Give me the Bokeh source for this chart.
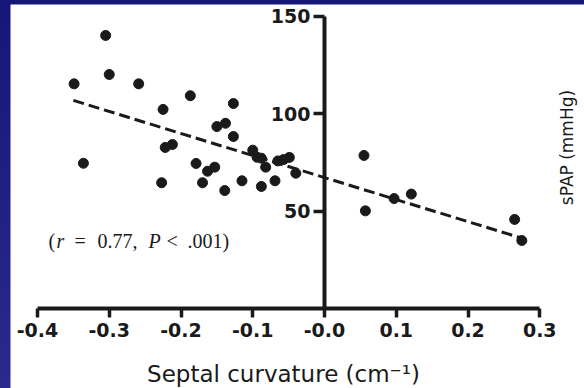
import math
from bokeh.plotting import figure
from bokeh.models import Range1d, FixedTicker, Label
from bokeh.embed import file_html
from bokeh.resources import INLINE

# --- data ---
curvature = [-0.349, -0.305, -0.300, -0.259, -0.336, -0.225, -0.187, -0.127, -0.222, -0.212,
             -0.227, -0.150, -0.138, -0.127, -0.179, -0.163, -0.153, -0.170, -0.139, -0.115,
             -0.100, -0.094, -0.088, -0.082, -0.088, -0.069, -0.065, -0.057, -0.049, -0.040,
             0.055, 0.057, 0.097, 0.121, 0.265, 0.275]
spap = [115.3, 140.1, 120.1, 115.3, 74.6, 102.2, 109.2, 105.2, 82.7, 84.2,
        64.6, 93.4, 95.1, 88.3, 74.5, 70.5, 72.6, 64.6, 60.6, 65.6,
        81.3, 77.7, 77.2, 72.6, 62.7, 65.6, 75.8, 76.5, 77.6, 69.5,
        78.6, 50.2, 56.5, 58.8, 45.8, 35.0]
fit_x = [-0.350, 0.275]
fit_y = [106.8, 36.2]

x_ticks = [-0.4, -0.3, -0.2, -0.1, 0.0, 0.1, 0.2, 0.3]
x_tick_labels = ["-0.4", "-0.3", "-0.2", "-0.1", "-0.0", "0.1", "0.2", "0.3"]
y_ticks = [50, 100, 150]
y_tick_labels = ["50", "100", "150"]

x_title = "Septal curvature (cm\u207b\u00b9)"
y_title = "sPAP (mmHg)"
stat_pieces = ["(", "r", "=", "0.77,", "P", "<", ".001)"]
stat_italic = [False, True, False, False, True, False, False]

INK = "#1a1a1a"

# pixel -> data helpers (frame spans px 10..584 horizontally, 4..388 vertically)
def dx(px):
    return (px - 324.0) / 717.5

def dy(py):
    return (308.3 - py) / 1.951

p = figure(width=584, height=388, output_backend="svg", toolbar_location=None,
           x_range=Range1d(dx(10), dx(584)), y_range=Range1d(dy(388), dy(4)),
           min_border_left=10, min_border_top=4, min_border_right=0, min_border_bottom=0)
p.border_fill_alpha = 0
p.styles = {"background": "linear-gradient(180deg, #16167a 0%, #2a2a8e 100%)"}
p.background_fill_color = "white"
p.outline_line_color = None
p.xgrid.visible = False
p.ygrid.visible = False

for ax, ticks, labels, bounds, tick_out, standoff in (
        (p.xaxis[0], x_ticks, x_tick_labels, (-0.4, 0.3), 9, 5),
        (p.yaxis[0], y_ticks, y_tick_labels, (0, 150), 11, 3)):
    ax.fixed_location = 0
    ax.bounds = bounds
    ax.ticker = FixedTicker(ticks=ticks)
    ax.major_label_overrides = {t: l for t, l in zip(ticks, labels)}
    ax.axis_line_width = 4
    ax.axis_line_color = INK
    ax.major_tick_line_width = 3.5
    ax.major_tick_line_color = INK
    ax.major_tick_in = 0
    ax.major_tick_out = tick_out
    ax.minor_tick_line_color = None
    ax.major_label_text_font = "DejaVu Sans"
    ax.major_label_text_font_style = "bold"
    ax.major_label_text_font_size = "19px"
    ax.major_label_text_color = INK
    ax.major_label_standoff = standoff

p.line(fit_x, fit_y, line_dash="11 5", line_width=3, line_color=INK)
p.scatter(curvature, spap, size=10, fill_color=INK, line_color=INK)

p.add_layout(Label(x=dx(283), y=dy(373), text=x_title, text_align="center",
                   text_baseline="middle", text_font="DejaVu Sans",
                   text_font_size="23px", text_color=INK))
p.add_layout(Label(x=dx(566.5), y=dy(147), text=y_title, angle=math.pi / 2,
                   text_align="center", text_baseline="middle", text_font="DejaVu Sans",
                   text_font_size="17px", text_color=INK))

piece_px = [48, 56, 74, 97, 148, 166, 187]
for t, it, px in zip(stat_pieces, stat_italic, piece_px):
    p.add_layout(Label(x=dx(px), y=dy(240), text=t, text_align="left",
                       text_baseline="middle", text_font="Liberation Serif",
                       text_font_style="italic" if it else "normal",
                       text_font_size="20px", text_color=INK))

open("out.html", "w").write(file_html(p, INLINE))
